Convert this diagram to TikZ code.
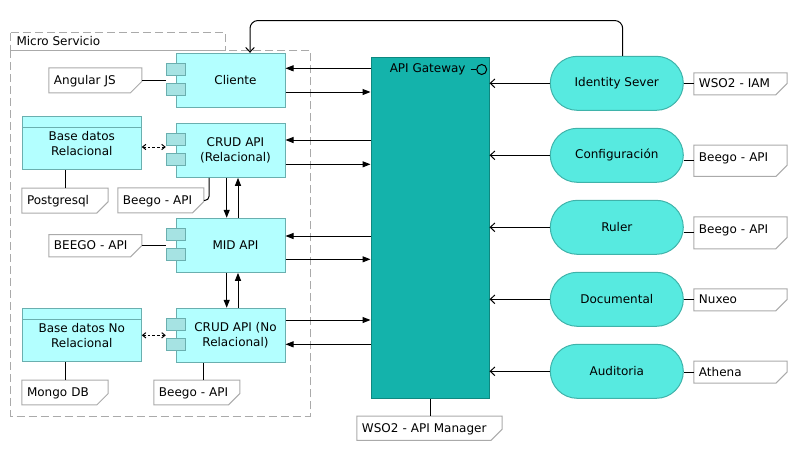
\documentclass[tikz,border=0pt]{standalone}
\usepackage{fontspec}
\setmainfont{DejaVu Sans}
\usetikzlibrary{arrows.meta,calc}
\definecolor{compfill}{HTML}{B3FFFF}
\definecolor{compdraw}{HTML}{6AAFAF}
\definecolor{portfill}{HTML}{A6E3E3}
\definecolor{stadfill}{HTML}{57EAE0}
\definecolor{staddraw}{HTML}{3FB3AA}
\definecolor{gwfill}{HTML}{14B3AB}
\definecolor{gwdraw}{HTML}{0E8880}
\definecolor{notedraw}{HTML}{AAAAAA}
\definecolor{framedraw}{HTML}{AAAAAA}
\begin{document}
\begin{tikzpicture}[x=0.75pt,y=-0.75pt, font=\fontsize{9}{11.25}\selectfont, line width=0.75pt,
 comp/.style={draw=compdraw, fill=compfill, minimum width=81.75pt, minimum height=40.5pt, inner sep=0pt},
 complabel/.style={xshift=3.75pt, align=center, inner sep=0pt},
 port/.style={draw=compdraw, fill=portfill, minimum width=14.25pt, minimum height=9pt, inner sep=0pt},
 db/.style={draw=compdraw, fill=compfill, minimum width=89.25pt, minimum height=40pt, align=center, inner sep=0pt},
 stad/.style={draw=staddraw, fill=stadfill, rounded corners=20.25pt, minimum width=99.75pt, minimum height=40.5pt, inner sep=0pt},
 gwbox/.style={draw=gwdraw, fill=gwfill, minimum width=88.5pt, minimum height=255.75pt, inner sep=0pt},
 note/.style 2 args={fill=white, text width=#1, minimum height=#2, align=left, inner xsep=3.5pt, inner ysep=0pt, text height=7.5pt, text depth=1.5pt},
 noteline/.style={draw=notedraw},
 frame/.style={draw=framedraw, dash pattern=on 6pt off 3pt},
 fa/.style={-{Triangle[length=6pt,width=4.5pt]}},
 oa/.style={-{Straight Barb[length=3.5pt,width=6.5pt]}},
 da/.style={dash pattern=on 2pt off 1.5pt, {Straight Barb[length=2.5pt,width=4pt]}-{Straight Barb[length=2.5pt,width=4pt]}},
]
\useasboundingbox (0,0) rectangle (797,451);

% frame
\draw[frame] (10.7,32.7) rectangle (225.3,50);
\draw[frame] (10.7,50) rectangle (310,416);
\node[anchor=west, inner sep=0pt] (msT) at (16,41.5) {Micro Servicio};

% components
\node[comp, label={[complabel]center:Cliente}] (cli) at (230.5,80.3) {};
\node[comp, label={[complabel]center:CRUD API\\(Relacional)}] (crr) at (230.5,150.3) {};
\node[comp, label={[complabel]center:MID API}] (mid) at (230.5,245.3) {};
\node[comp, label={[complabel]center:CRUD API (No\\Relacional)}] (crn) at (230.5,335.3) {};
\foreach \c in {cli,crr,mid,crn}{
  \node[port] (\c P1) at ($(\c.west)+(0.3,-11)$) {};
  \node[port] (\c P2) at ($(\c.west)+(0.3,9)$) {};
}

% databases
\node[db] (bdr) at (81.8,143.3) {Base datos\\Relacional};
\node[db] (bdn) at (81.8,335.3) {Base datos No\\Relacional};
\foreach \d in {bdr,bdn}{
  \draw[compdraw] ([yshift=-8.75pt]\d.north west) -- ([yshift=-8.75pt]\d.north east);
}

% gateway
\node[gwbox] (gw) at (430,227.5) {};
\node[anchor=east] (gwt) at (470.5,69.5) {API Gateway};
\node[circle, draw, minimum size=7.5pt, inner sep=0pt] (lol) at ($(gwt.east)+(11.2,0)$) {};
\draw (gwt.east) -- (lol.west);

% stadiums
\node[stad] (idn) at (616.8,83.3) {Identity Sever};
\node[stad] (cfg) at (616.8,155.3) {Configuración};
\node[stad] (rul) at (616.8,227.3) {Ruler};
\node[stad] (doc) at (616.8,299.3) {Documental};
\node[stad] (aud) at (616.8,371.3) {Auditoria};

% notes
\node[note={62pt}{18pt}] (nAng) at (95.3,80.3) {Angular JS};
\node[note={57pt}{18pt}] (nPg) at (65,200.5) {Postgresql};
\node[note={56.75pt}{18pt}] (nBR) at (160.8,200.4) {Beego - API};
\node[note={62pt}{16pt}] (nBM) at (95.3,245.7) {BEEGO - API};
\node[note={57pt}{17.8pt}] (nMg) at (65,392.5) {Mongo DB};
\node[note={56.75pt}{17.8pt}] (nBN) at (196.8,392.5) {Beego - API};
\node[note={101.3pt}{17.5pt}] (nWA) at (429.5,428.3) {WSO2 - API Manager};
\node[note={62.3pt}{15.75pt}] (nIAM) at (740.5,83.8) {WSO2 - IAM};
\node[note={62.3pt}{22.7pt}, text depth=6.5pt] (nCf) at (740.5,160.8) {Beego - API};
\node[note={62.3pt}{23.25pt}, text depth=6.5pt] (nRl) at (740.5,232.8) {Beego - API};
\node[note={62.3pt}{15.75pt}] (nNx) at (740.5,299.8) {Nuxeo};
\node[note={62.3pt}{15.75pt}] (nAt) at (740.5,372.2) {Athena};
\foreach \n in {nAng,nPg,nBR,nBM,nMg,nBN,nWA,nIAM,nCf,nRl,nNx,nAt}{
  \draw[noteline] (\n.north west) -- (\n.north east) -- ([yshift=8.5pt]\n.south east)
    -- ([xshift=-8.5pt]\n.south east) -- (\n.south west) -- cycle;
}

% note connectors
\draw (nAng.east) -- (nAng.east -| cliP1.west);
\draw (nBM.east) -- (nBM.east -| midP1.west);
\draw (nPg.north) -- (nPg.north |- bdr.south);
\draw (nMg.north) -- (nMg.north |- bdn.south);
\coordinate (brc) at ($(crr.south)+(-21.5,0)$);
\draw[rounded corners=3pt] (nBR.east) -| (brc);
\coordinate (bnc) at ($(crn.south)+(-27.2,0)$);
\draw (bnc) -- (bnc |- nBN.north);
\draw (gw.south) -- (gw.south |- nWA.north);
\foreach \s/\n in {idn/nIAM,cfg/nCf,rul/nRl,doc/nNx,aud/nAt}{
  \draw (\n.west) -- (\n.west -| \s.east);
}

% dashed db links
\coordinate (dr) at ($(bdr.east)+(0,3.7)$);
\draw[da] (dr) -- (dr -| crrP1.west);
\draw[da] (bdn.east) -- (bdn.east -| crnP1.west);

% component <-> gateway
\coordinate (cliIn) at ($(cli.east)+(0,-12)$);
\coordinate (cliOut) at ($(cli.east)+(0,11.7)$);
\coordinate (crrIn) at ($(crr.east)+(0,-10.3)$);
\coordinate (crrOut) at ($(crr.east)+(0,14)$);
\coordinate (midIn) at ($(mid.east)+(0,-9.3)$);
\coordinate (midOut) at ($(mid.east)+(0,14)$);
\coordinate (crnOut) at ($(crn.east)+(0,-15.3)$);
\coordinate (crnIn) at ($(crn.east)+(0,9)$);
\foreach \c in {cli,crr,mid,crn}{
  \draw[fa] (\c In -| gw.west) -- (\c In);
  \draw[fa] (\c Out) -- (\c Out -| gw.west);
}

% vertical component links
\coordinate (v1) at ($(crr.south)+(-3.8,0)$);
\coordinate (v2) at ($(crr.south)+(7.5,0)$);
\draw[fa] (v1) -- (v1 |- mid.north);
\draw[fa] (v2 |- mid.north) -- (v2);
\coordinate (v3) at ($(mid.south)+(-3.8,0)$);
\coordinate (v4) at ($(mid.south)+(7.5,0)$);
\draw[fa] (v3) -- (v3 |- crn.north);
\draw[fa] (v4 |- crn.north) -- (v4);

% services -> gateway
\foreach \s in {idn,cfg,rul,doc,aud}{
  \draw[oa] (\s.west) -- (\s.west -| gw.east);
}

% top connector
\coordinate (t1) at ($(idn.north)+(5.9,0)$);
\coordinate (t2) at ($(cli.north)+(19.5,0)$);
\coordinate (ty) at (0,20.5);
\draw[oa, rounded corners=6pt] (t1) -- (t1 |- ty) -- (t2 |- ty) -- (t2);
\end{tikzpicture}
\end{document}
